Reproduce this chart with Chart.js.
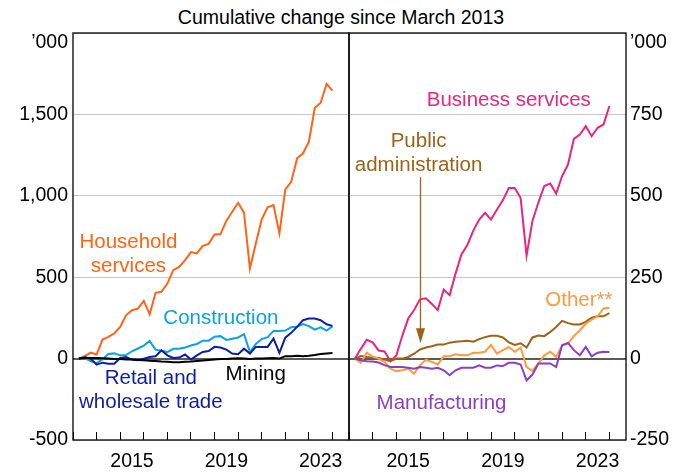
<!DOCTYPE html>
<html>
<head>
<meta charset="utf-8">
<script src="https://cdn.jsdelivr.net/npm/chart.js@4"></script>
<style>
  body { margin: 0; background: #fff; }
  #wrap { position: relative; width: 682px; height: 472px; font-family: "Liberation Sans", Arial, sans-serif; }
  #title { position: absolute; left: 0; top: 5px; width: 682px; text-align: center; font-size: 19.5px; line-height: 24px; color: #000; }
  canvas { position: absolute; top: 0; }
</style>
</head>
<body>
<div id="wrap">
  <div id="title">Cumulative change since March 2013</div>
  <canvas id="leftChart" width="350" height="472" style="left:0"></canvas>
  <canvas id="rightChart" width="334" height="472" style="left:348px"></canvas>
</div>
<script>
// quarter-end dates, March 2013 to December 2023
const quarters = Array.from({ length: 44 }, (_, i) => 2013.25 + i / 4);

// '000 persons, cumulative change since March 2013
const household = [0, 15, 37, 25, 117, 133, 154, 195, 266, 297, 307, 354, 272, 404, 410, 461, 543, 563, 605, 654,
  646, 693, 705, 763, 765, 846, 902, 957, 895, 553, 707, 855, 929, 943, 769, 1039, 1086, 1230, 1261, 1332,
  1541, 1572, 1687, 1646];
const construction = [0, 2, -15, -28, -5, 28, 32, 20, 22, 45, 62, 80, 108, 55, 48, 40, 60, 60, 68, 80,
  90, 110, 110, 135, 138, 115, 122, 130, 150, 40, 90, 120, 132, 170, 170, 172, 192, 195, 212, 200,
  178, 192, 172, 198];
const retail = [0, 8, 0, -37, -25, -31, -31, 4, 10, -6, -10, 0, 10, 14, 51, 20, 4, 6, 25, -6,
  20, 41, 47, 72, 68, 55, 31, 27, 61, 31, 72, 72, 72, 123, 35, 129, 158, 195, 236, 246,
  246, 236, 211, 201];
const mining = [0, 5, 3, 3, 2, 0, -2, -3, -5, -5, -8, -10, -13, -15, -18, -20, -22, -22, -20, -18,
  -15, -12, -8, -5, -3, -2, 0, 2, 0, -2, 0, 0, 2, 3, 0, 15, 15, 18, 15, 18,
  22, 28, 32, 35];
const business = [0, 30, 58, 50, 25, 22, -8, 10, 70, 123, 149, 182, 185, 168, 149, 212, 195, 261, 320, 349,
  393, 427, 448, 427, 458, 486, 524, 524, 493, 316, 423, 480, 530, 538, 507, 560, 596, 675, 688, 714,
  683, 709, 719, 776];
const publicAdmin = [0, 8, 5, 3, 2, -3, -8, 0, 0, 5, 15, 28, 34, 38, 43, 43, 49, 52, 53, 55,
  52, 60, 66, 70, 70, 65, 50, 42, 47, 34, 65, 71, 69, 82, 97, 116, 109, 105, 105, 113,
  126, 130, 130, 140];
const other = [0, -13, 18, 6, 0, -10, -31, -39, -36, -31, -46, -21, -3, -10, -18, 7, 7, 13, 10, 10,
  18, 18, 21, 42, 15, 26, 36, 21, 34, -26, -38, -15, 10, 21, 5, 41, 46, 69, 87, 107,
  120, 130, 154, 156];
const manufacturing = [0, -5, -8, -9, -12, -20, -26, -26, -26, -28, -31, -26, -28, -31, -28, -36, -51, -36, -28, -28,
  -28, -21, -28, -28, -21, -23, -13, -13, -18, -67, -49, -15, -15, -15, -26, 41, 48, 26, 10, 36,
  7, 18, 21, 20];

const tickYears = [2013, 2014, 2015, 2016, 2017, 2018, 2019, 2020, 2021, 2022, 2023, 2024];
const labelYears = [2015, 2019, 2023];
const leftTicks = [-500, 0, 500, 1000, 1500, 2000];
const rightTicks = [-250, 0, 250, 500, 750, 1000];

const FONT = '"Liberation Sans", Arial, sans-serif';
Chart.defaults.font.family = FONT;
Chart.defaults.font.size = 19.5;
Chart.defaults.color = '#000';

const C = {
  household: '#ff6414', construction: '#0aa2e2', retail: '#0c1ea3', mining: '#000000',
  business: '#e6267f', publicAdmin: '#9c6318', other: '#ff9a3c', manufacturing: '#8c3fc3'
};

function series(label, values, color) {
  return {
    label: label,
    data: values.map((v, i) => ({ x: quarters[i], y: v })),
    borderColor: color,
    borderWidth: 2,
    pointRadius: 0,
    tension: 0,
    fill: false
  };
}

// frame, unit label, line labels and the arrow
const panelDecor = {
  id: 'panelDecor',
  afterDatasetsDraw(chart, args, opts) {
    const { ctx, chartArea: a, scales: { x, y } } = chart;
    ctx.save();
    ctx.strokeStyle = '#000';
    ctx.lineWidth = 1.3;
    ctx.strokeRect(a.left, a.top, a.right - a.left, a.bottom - a.top);

    ctx.font = '19.5px ' + FONT;
    ctx.fillStyle = '#000';
    ctx.textBaseline = 'middle';
    if (y.position === 'left') {
      ctx.textAlign = 'right';
      ctx.fillText('\u2019000', y.right - 5, a.top + 10);
    } else {
      ctx.textAlign = 'left';
      ctx.fillText('\u2019000', y.left + 4, a.top + 10);
    }

    ctx.font = '20.5px ' + FONT;
    ctx.textAlign = 'center';
    (opts.notes || []).forEach(n => {
      ctx.fillStyle = n.color;
      const px = x.getPixelForValue(n.x);
      const py = y.getPixelForValue(n.y);
      n.lines.forEach((t, k) => ctx.fillText(t, px, py + k * 24));
    });

    if (opts.arrow) {
      const r = opts.arrow;
      const px = x.getPixelForValue(r.x);
      const y0 = y.getPixelForValue(r.from);
      const y1 = y.getPixelForValue(r.to);
      ctx.strokeStyle = r.color;
      ctx.fillStyle = r.color;
      ctx.lineWidth = 1.3;
      ctx.beginPath();
      ctx.moveTo(px, y0);
      ctx.lineTo(px, y1 - 14);
      ctx.stroke();
      ctx.beginPath();
      ctx.moveTo(px - 4.5, y1 - 15);
      ctx.lineTo(px + 4.5, y1 - 15);
      ctx.lineTo(px, y1);
      ctx.closePath();
      ctx.fill();
    }
    ctx.restore();
  }
};

function makeOptions(side, yMin, yMax, yTicks, padding, axisWidth, decor) {
  return {
    responsive: false,
    animation: false,
    layout: { padding: padding },
    plugins: { legend: { display: false }, tooltip: { enabled: false }, panelDecor: decor },
    scales: {
      x: {
        type: 'linear',
        min: 2013,
        max: 2024.7,
        afterBuildTicks: s => { s.ticks = tickYears.map(v => ({ value: v })); },
        afterFit: s => {
          s.height = 32;
          // the year labels sit inside the panel, so no side padding is needed
          s.paddingLeft = 0;
          s.paddingRight = 0;
        },
        border: { display: false },
        grid: { drawOnChartArea: false, drawTicks: true, tickLength: -8, tickColor: '#000', tickWidth: 1 },
        ticks: {
          autoSkip: false,
          maxRotation: 0,
          padding: 18,
          labelOffset: 11.8,
          callback: v => labelYears.includes(v) ? String(v) : ''
        }
      },
      y: {
        position: side,
        min: yMin,
        max: yMax,
        afterBuildTicks: s => { s.ticks = yTicks.map(v => ({ value: v })); },
        afterFit: s => { s.width = axisWidth; },
        border: { display: false },
        grid: {
          drawTicks: false,
          color: c => c.tick.value === 0 ? '#5a5a5a' : '#c6c6c6',
          lineWidth: c => c.tick.value === 0 ? 2 : 1
        },
        ticks: {
          padding: side === 'left' ? 5 : 4,
          callback: v => v === yMax ? '' : v.toLocaleString('en-US')
        }
      }
    }
  };
}

new Chart(document.getElementById('leftChart'), {
  type: 'line',
  data: {
    datasets: [
      series('Mining', mining, C.mining),
      series('Retail and wholesale trade', retail, C.retail),
      series('Construction', construction, C.construction),
      series('Household services', household, C.household)
    ]
  },
  options: makeOptions('left', -500, 2000, leftTicks, { top: 33, right: 1, left: 0, bottom: 0 }, 73, {
    notes: [
      { lines: ['Household', 'services'], x: 2015.35, y: 717, color: C.household },
      { lines: ['Construction'], x: 2019.27, y: 248, color: C.construction },
      { lines: ['Retail and', 'wholesale trade'], x: 2016.3, y: -123, color: C.retail },
      { lines: ['Mining'], x: 2020.74, y: -97, color: C.mining }
    ]
  }),
  plugins: [panelDecor]
});

new Chart(document.getElementById('rightChart'), {
  type: 'line',
  data: {
    datasets: [
      series('Manufacturing', manufacturing, C.manufacturing),
      series('Other**', other, C.other),
      series('Public administration', publicAdmin, C.publicAdmin),
      series('Business services', business, C.business)
    ]
  },
  options: makeOptions('right', -250, 1000, rightTicks, { top: 33, right: 0, left: 1, bottom: 0 }, 56, {
    notes: [
      { lines: ['Business services'], x: 2019.75, y: 792, color: C.business },
      { lines: ['Public', 'administration'], x: 2015.94, y: 668, color: C.publicAdmin },
      { lines: ['Other**'], x: 2022.71, y: 179, color: C.other },
      { lines: ['Manufacturing'], x: 2016.91, y: -138, color: C.manufacturing }
    ],
    arrow: { x: 2016.02, from: 557, to: 47, color: C.publicAdmin }
  }),
  plugins: [panelDecor]
});
</script>
</body>
</html>
